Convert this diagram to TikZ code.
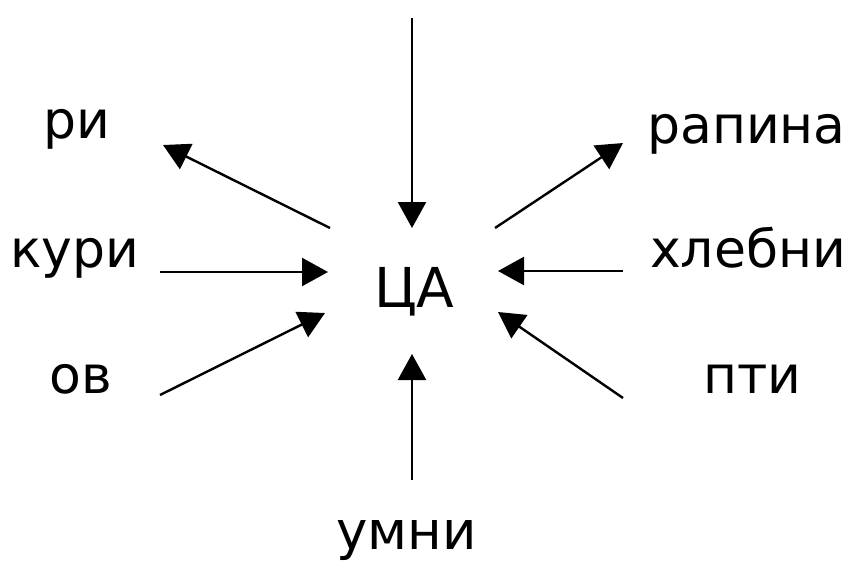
\documentclass[tikz,border=0pt]{standalone}
\usepackage{fontspec}
\setmainfont{DejaVu Sans}
\usetikzlibrary{arrows.meta}
\begin{document}
\begin{tikzpicture}[x=1pt,y=-1pt,
  lbl/.style={anchor=base west,inner sep=0pt,font=\fontsize{52}{60}\selectfont},
  conn/.style={line width=2.4pt,-{Triangle[length=26pt,width=28pt]}}]
\useasboundingbox (0,0) rectangle (854,563);
% labels
\node[lbl] (ri)   at (43,138)  {ри};
\node[lbl] (kuri) at (10,267)  {кури};
\node[lbl] (ov)   at (49,393)  {ов};
\node[lbl,font=\fontsize{55}{62}\selectfont] (ca) at (374,307) {ЦА};
\node[lbl] (rap)  at (647,143) {рапина};
\node[lbl] (hleb) at (650,267) {хлебни};
\node[lbl] (pti)  at (703,393) {пти};
\node[lbl,font=\fontsize{53}{62}\selectfont] (umni) at (336,549) {умни};
% arrow end points
\coordinate (t0) at (412,18);   \coordinate (t1) at (412,228);
\coordinate (ul0) at (330,228); \coordinate (ul1) at (163,145);
\coordinate (l0) at (160,272);  \coordinate (l1) at (328,272);
\coordinate (ll0) at (160,395); \coordinate (ll1) at (325,313);
\coordinate (b0) at (412,480);  \coordinate (b1) at (412,354);
\coordinate (ur0) at (495,228); \coordinate (ur1) at (623,143);
\coordinate (r0) at (623,271);  \coordinate (r1) at (498,271);
\coordinate (lr0) at (623,398); \coordinate (lr1) at (498,312);
% arrows
\draw[conn] (t0) -- (t1);
\draw[conn] (ul0) -- (ul1);
\draw[conn] (l0) -- (l1);
\draw[conn] (ll0) -- (ll1);
\draw[conn] (b0) -- (b1);
\draw[conn] (ur0) -- (ur1);
\draw[conn] (r0) -- (r1);
\draw[conn] (lr0) -- (lr1);
\end{tikzpicture}
\end{document}
